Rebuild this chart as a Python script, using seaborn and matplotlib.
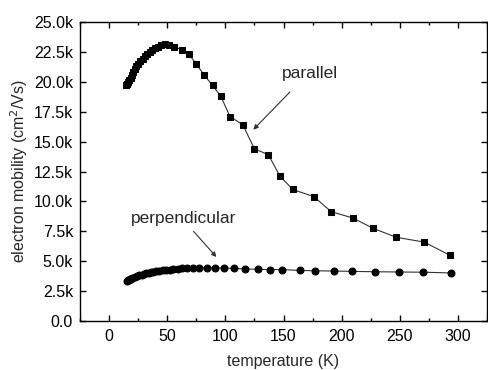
import matplotlib
matplotlib.use("Agg")
import matplotlib.pyplot as plt
import seaborn as sns
import pandas as pd
from matplotlib.ticker import MultipleLocator, FuncFormatter

par_T = [14.5, 15.5, 16.5, 17.5, 18.5, 19.5, 20.5, 22, 23.5, 25, 27, 29, 31, 33, 35, 37, 39.5, 42, 45, 48,
         51.5, 55.8, 63, 68.6, 75, 81.5, 89, 96, 104, 115, 125, 137, 147, 158, 176, 191, 210, 227, 247, 271, 293]
par_mu = [19.7, 19.85, 20.0, 20.15, 20.3, 20.55, 20.8, 21.05, 21.3, 21.5, 21.75, 21.95, 22.15, 22.35, 22.5,
          22.65, 22.8, 22.95, 23.1, 23.2, 23.1, 22.9, 22.7, 22.3, 21.5, 20.6, 19.7, 18.8, 17.1, 16.4, 14.4,
          13.9, 12.1, 11.0, 10.4, 9.15, 8.6, 7.75, 7.0, 6.6, 5.5]

perp_T = [15, 16, 17, 18, 19, 20, 22, 24, 26, 28, 30, 32, 34, 36, 38, 40, 43, 46, 49, 52, 55, 59, 63, 67,
          72, 77, 84, 91, 99, 107, 117, 128, 138, 149, 164, 177, 193, 209, 229, 249, 270, 294]
perp_mu = [3.35, 3.4, 3.45, 3.5, 3.55, 3.6, 3.68, 3.75, 3.82, 3.88, 3.94, 3.99, 4.04, 4.08, 4.12, 4.16,
           4.2, 4.24, 4.27, 4.3, 4.33, 4.36, 4.4, 4.42, 4.44, 4.45, 4.45, 4.45, 4.42, 4.4, 4.36, 4.32, 4.3,
           4.3, 4.23, 4.2, 4.18, 4.15, 4.12, 4.1, 4.08, 4.02]

x_ticks = [0, 50, 100, 150, 200, 250, 300]

sns.set_style("ticks")
plt.rcParams['font.family'] = ['Liberation Sans', 'DejaVu Sans']

fig = plt.figure(figsize=(4.88, 3.70), dpi=100)
ax = fig.add_axes([0.164, 0.1324, 0.834, 0.808])

df_par = pd.DataFrame({"T": par_T, "mu": [v * 1000 for v in par_mu]})
df_perp = pd.DataFrame({"T": perp_T, "mu": [v * 1000 for v in perp_mu]})

sns.lineplot(data=df_par, x="T", y="mu", ax=ax, color="#333333", linewidth=0.8, marker="s",
             markersize=4.3, markerfacecolor="black", markeredgecolor="black", sort=False)
sns.lineplot(data=df_perp, x="T", y="mu", ax=ax, color="#333333", linewidth=0.8, marker="o",
             markersize=5, markerfacecolor="black", markeredgecolor="black", sort=False)

ax.set_xlim(-25, 325)
ax.set_ylim(0, 25000)
ax.set_xticks(x_ticks)
ax.xaxis.set_minor_locator(MultipleLocator(25))
ax.yaxis.set_major_locator(MultipleLocator(2500))
ax.yaxis.set_major_formatter(FuncFormatter(lambda v, p: "0.0" if v == 0 else f"{v/1000:.1f}k"))

for s in ax.spines.values():
    s.set_visible(True)
    s.set_linewidth(1.0)
    s.set_color("black")

ax.tick_params(which="both", direction="in", top=True, right=True, labelsize=11.5, colors="black")
ax.tick_params(which="major", length=4, width=1)
ax.tick_params(which="minor", length=2.5, width=1)
ax.tick_params(axis="x", pad=6)
ax.tick_params(axis="y", pad=5)

ax.set_xlabel("temperature (K)", fontsize=11.5, labelpad=7)
ax.set_ylabel("electron mobility (cm$^2$/Vs)", fontsize=11.5, labelpad=3)

ax.text(172.6, 20700, "parallel", fontsize=12.5, ha="center", va="center")
ax.annotate("", xy=(124, 16000), xytext=(155.5, 19150),
            arrowprops=dict(arrowstyle="-|>", color="#333333", lw=0.8, mutation_scale=7,
                            shrinkA=0, shrinkB=0))
ax.text(64, 8600, "perpendicular", fontsize=12.5, ha="center", va="center")
ax.annotate("", xy=(92.3, 5350), xytext=(72.6, 7500),
            arrowprops=dict(arrowstyle="-|>", color="#333333", lw=0.8, mutation_scale=7,
                            shrinkA=0, shrinkB=0))

fig.savefig("out.png", dpi=100)
